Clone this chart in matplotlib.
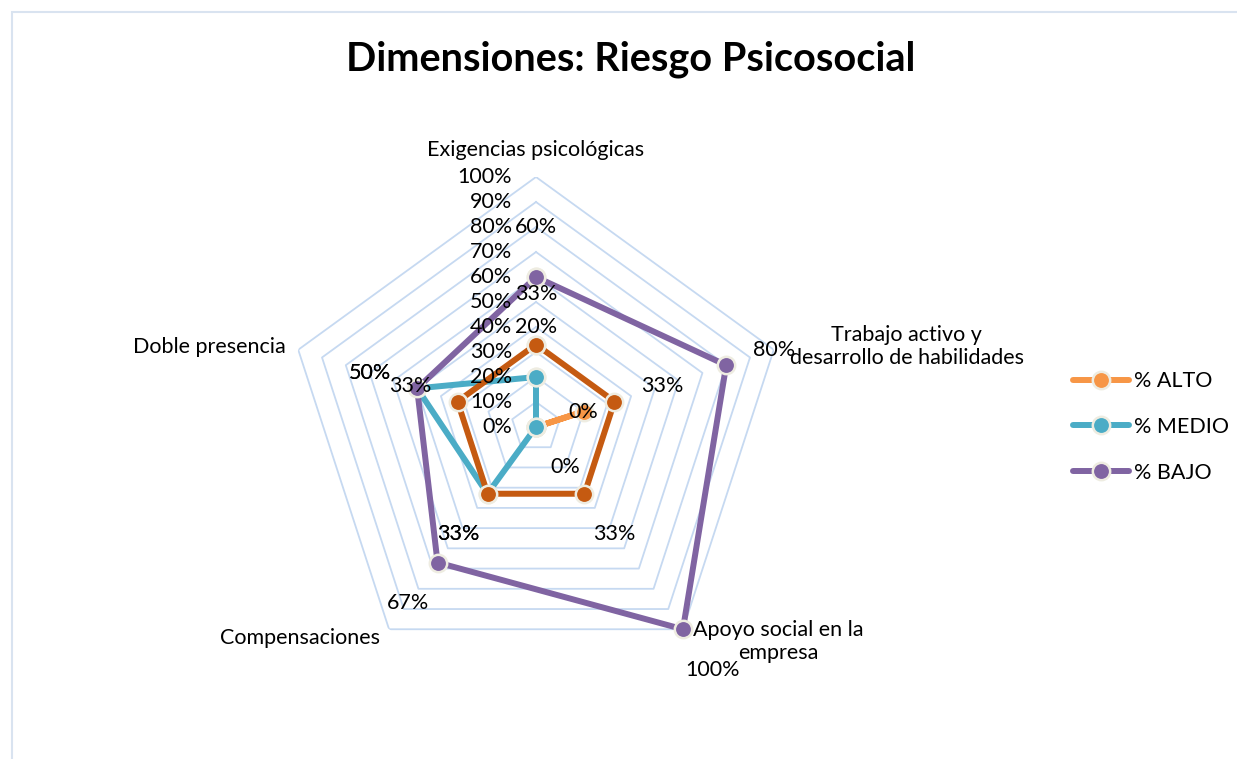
import numpy as np
import matplotlib
matplotlib.use("Agg")
import matplotlib.pyplot as plt
from matplotlib.patches import Rectangle

plt.rcParams["font.family"] = ["Lato", "DejaVu Sans"]

categories = ["Exigencias psicológicas",
              "Trabajo activo y\ndesarrollo de habilidades",
              "Apoyo social en la\nempresa",
              "Compensaciones",
              "Doble presencia"]
alto = [0, 20, 0, 0, 0]
medio = [20, 0, 0, 33, 50]
bajo = [60, 80, 100, 67, 50]
extra = [33, 33, 33, 33, 33]   # serie sin entrada en la leyenda
levels = [0, 10, 20, 30, 40, 50, 60, 70, 80, 90, 100]

W, H = 1237, 759
fig = plt.figure(figsize=(W / 100, H / 100), dpi=100)

# borde del area del grafico
fig.patches.append(Rectangle((12 / W, -0.1), 1.2, 1.1 - 12 / H, transform=fig.transFigure,
                             fill=False, edgecolor="#D9E3F0", lw=1.5))

cx, cy, R = 536, 427, 250
ax = fig.add_axes([(cx - R) / W, (H - cy - R) / H, 2 * R / W, 2 * R / H], projection="polar")
ax.set_theta_offset(np.pi / 2)
ax.set_theta_direction(-1)
ax.set_ylim(0, 100)
ax.grid(False)
ax.spines["polar"].set_visible(False)
ax.set_xticks([])
ax.set_yticks([])
ax.patch.set_alpha(0)

n = len(categories)
theta = np.arange(n) * 2 * np.pi / n
closed = np.append(theta, theta[0])
fs = 15.5

for lv in levels[1:]:
    ax.plot(closed, [lv] * (n + 1), color="#C6D9F1", lw=1.3, zorder=1)

for lv in levels:
    ax.annotate(f"{lv}%", xy=(0, lv), xytext=(-24, 0), textcoords="offset pixels",
                ha="right", va="center", fontsize=fs, zorder=6)

cat_off = [(0, 27), (133, 3), (95, -12), (-89, -9), (-89, 3)]
for t, lab, off in zip(theta, categories, cat_off):
    ax.annotate(lab, xy=(t, 100), xytext=off, textcoords="offset pixels",
                ha="center", va="center", fontsize=fs, linespacing=1.2,
                annotation_clip=False)

series = [("% ALTO", alto, "#F79646", 2, False),
          ("% MEDIO", medio, "#4BACC6", 3, True),
          ("% BAJO", bajo, "#8064A2", 4, True),
          (None, extra, "#C55A11", 5, True)]
for name, vals, col, z, show in series:
    ax.plot(closed, vals + vals[:1], color=col, lw=4.3, marker="o", ms=12.5,
            mfc=col, mec="#EEECE1", mew=1.8, label=name if name else "_nolegend_",
            zorder=z, clip_on=False, solid_capstyle="round")
    if show:
        for t, v in zip(theta, vals):
            ax.annotate(f"{v}%", xy=(t, v), xytext=(50 * np.sin(t), 50 * np.cos(t)),
                        textcoords="offset pixels", ha="center", va="center",
                        fontsize=fs, zorder=7, annotation_clip=False)

fig.text(631 / W, 1 - 59 / H, "Dimensiones: Riesgo Psicosocial", ha="center", va="center",
         fontsize=28.5, fontweight="bold")

handles, labels = ax.get_legend_handles_labels()
leg = fig.legend(handles, labels, loc="center left", bbox_to_anchor=(1054 / W, 1 - 427 / H),
                 frameon=False, fontsize=fs, handlelength=2.6, handletextpad=0.2,
                 labelspacing=1.2)

fig.savefig("out.png", dpi=100)
